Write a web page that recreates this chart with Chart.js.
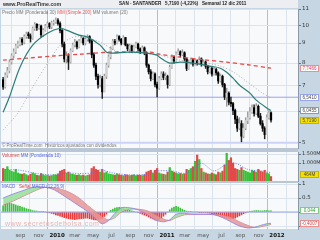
<!DOCTYPE html>
<html><head><meta charset="utf-8">
<script src="https://cdn.jsdelivr.net/npm/chart.js@4.4.1/dist/chart.umd.min.js"></script>
<style>
html,body{margin:0;padding:0}
body{width:320px;height:240px;background:#c6d6e3;position:relative;overflow:hidden;font-family:"Liberation Sans",Arial,sans-serif}
canvas{position:absolute;left:0}
.t{position:absolute;white-space:nowrap;font-size:4.5px;line-height:6px;color:#777}
.box{position:absolute;left:300px;width:19px;height:7px;font-size:4.6px;line-height:5px;text-align:center;border:1px solid #8a9aaa;background:#fff;box-sizing:border-box;color:#444}
</style></head><body>
<div style="position:absolute;left:0;top:0;width:298px;height:8px;background:#eceef1"></div>
<div style="position:absolute;left:0;top:148px;width:298px;height:4px;background:#b9c7d4"></div>
<div style="position:absolute;left:0;top:181px;width:298px;height:2px;background:#b9c7d4"></div>
<canvas id="c1" width="320" height="155" style="top:0"></canvas>
<canvas id="c2" width="320" height="42" style="top:145px"></canvas>
<canvas id="c3" width="320" height="64" style="top:176px"></canvas>
<div class="t" style="left:3px;top:1px;font-weight:bold;color:#333;font-size:5.3px">www.ProRealTime.com</div>
<div class="t" style="left:119px;top:1px;font-weight:bold;color:#222;font-size:4.6px">SAN - SANTANDER &nbsp; 5,7190 (-4,22%) &nbsp; Semanal 12 dic 2011</div>
<div class="t" style="left:2px;top:10px">Precio MM (Ponderada 30) <span style="color:#e85555">MM (Simple 200)</span> MM volumen (20)</div>
<div class="t" style="left:2px;top:143px">© ProRealTime.com &nbsp;Históricos ajustados con dividendos</div>
<div class="t" style="left:2px;top:153px"><span style="color:#e04040">Volumen</span> <span style="color:#5566dd">MM (Ponderada 10)</span></div>
<div class="t" style="left:2px;top:184px"><span style="color:#5566dd">MACD</span> &nbsp; <span style="color:#e04040">Señal</span> <span style="color:#5566dd">MACD (12,26,9)</span></div>
<div class="t" style="left:5px;top:220px;font-size:7px;line-height:8px;color:#e9b4b4;letter-spacing:0.5px">www.secretosdebolsa.com</div>
<div id="boxes"></div>
<script>
// ---- data (weekly, first week = 2009-07-06) ----
const firstWeek = '2009-07-06';
const priceOpen = [7.25,6.95,7.45,7.65,8.05,8.35,8.55,8.85,8.95,9.20,9.05,9.35,9.50,9.40,9.25,9.80,10.05,9.85,9.95,9.45,9.70,9.95,10.10,9.90,10.15,10.20,10.30,10.10,9.70,8.95,8.20,8.35,8.05,8.60,8.90,9.05,8.80,9.10,9.25,9.00,9.20,9.35,9.10,8.40,7.90,7.40,7.05,7.30,6.75,7.40,7.90,8.30,8.70,9.10,9.00,9.35,9.20,9.00,9.30,8.90,8.70,8.85,8.60,8.80,8.95,8.70,8.55,8.75,8.50,7.90,7.60,7.30,7.50,7.05,6.90,7.30,7.50,7.35,7.40,7.05,7.80,8.30,8.10,8.45,8.55,8.40,8.50,8.20,7.75,8.05,8.15,7.95,8.10,8.00,8.20,7.95,8.05,7.85,7.60,7.75,7.50,7.70,7.55,7.20,7.40,7.05,6.55,6.70,6.35,6.30,6.05,5.75,5.45,5.60,5.20,5.45,5.70,5.80,6.00,6.15,5.95,6.20,5.85,5.60,5.45,5.25,5.80,5.97];
const priceClose = [6.95,7.45,7.65,8.05,8.35,8.55,8.85,8.95,9.20,9.05,9.35,9.50,9.40,9.25,9.80,10.05,9.85,9.95,9.45,9.70,9.95,10.10,9.90,10.15,10.20,10.30,10.10,9.70,8.95,8.20,8.35,8.05,8.60,8.90,9.05,8.80,9.10,9.25,9.00,9.20,9.35,9.10,8.40,7.90,7.40,7.05,7.30,6.75,7.40,7.90,8.30,8.70,9.10,9.00,9.35,9.20,9.00,9.30,8.90,8.70,8.85,8.60,8.80,8.95,8.70,8.55,8.75,8.50,7.90,7.60,7.30,7.50,7.05,6.90,7.30,7.50,7.35,7.40,7.05,7.80,8.30,8.10,8.45,8.55,8.40,8.50,8.20,7.75,8.05,8.15,7.95,8.10,8.00,8.20,7.95,8.05,7.85,7.60,7.75,7.50,7.70,7.55,7.20,7.40,7.05,6.55,6.70,6.35,6.30,6.05,5.75,5.45,5.60,5.20,5.45,5.70,5.80,6.00,6.15,5.95,6.20,5.85,5.60,5.45,5.25,5.80,5.97,5.719];
const priceHigh = [7.35,7.55,7.80,8.15,8.45,8.70,8.95,9.10,9.30,9.30,9.45,9.60,9.60,9.50,9.90,10.15,10.10,10.05,10.00,9.80,10.05,10.20,10.15,10.25,10.30,10.45,10.40,10.20,9.75,9.05,8.55,8.45,8.70,9.00,9.20,9.10,9.20,9.40,9.30,9.30,9.45,9.40,9.15,8.50,8.00,7.50,7.45,7.40,7.50,8.00,8.40,8.80,9.20,9.20,9.45,9.40,9.25,9.40,9.30,8.95,8.95,8.90,8.90,9.05,9.00,8.75,8.85,8.80,8.55,7.95,7.70,7.60,7.55,7.15,7.40,7.60,7.60,7.55,7.45,7.90,8.40,8.35,8.55,8.70,8.60,8.65,8.55,8.25,8.15,8.25,8.20,8.20,8.15,8.30,8.25,8.15,8.10,7.90,7.85,7.80,7.80,7.75,7.60,7.50,7.45,7.10,6.90,6.75,6.55,6.35,6.10,5.85,5.80,5.70,5.60,5.80,6.00,6.15,6.25,6.25,6.30,6.25,5.95,5.70,5.50,5.90,6.05,6.00];
const priceLow = [6.85,6.90,7.35,7.55,7.95,8.25,8.45,8.75,8.85,8.90,8.95,9.25,9.25,9.05,9.20,9.70,9.70,9.75,9.30,9.35,9.65,9.85,9.80,9.80,10.00,10.10,10.00,9.55,8.80,8.05,8.00,7.70,8.00,8.55,8.80,8.70,8.75,9.05,8.90,8.90,9.10,9.00,8.25,7.80,7.25,6.90,6.95,6.50,6.75,7.30,7.80,8.20,8.65,8.90,8.95,9.10,8.90,8.95,8.85,8.60,8.60,8.50,8.55,8.75,8.60,8.45,8.50,8.40,7.80,7.50,7.20,7.25,6.95,6.55,6.85,7.25,7.25,7.25,6.90,7.00,7.75,8.00,8.05,8.40,8.30,8.35,8.10,7.65,7.70,7.95,7.85,7.90,7.90,7.95,7.85,7.90,7.75,7.50,7.55,7.40,7.45,7.45,7.10,7.15,6.95,6.45,6.20,6.25,6.20,5.90,5.60,5.35,5.40,5.03,5.15,5.40,5.60,5.75,5.95,5.85,5.90,5.80,5.55,5.35,5.12,5.25,5.75,5.65];
const ma30Weeks = [0,3,8,14,21,27,30,36,40,46,49,52,59,68,73,74,79,84,90,98,103,106,109,112,117,120,125,127];
const ma30Values = [5.99,6.55,7.81,8.89,9.54,9.82,9.71,9.43,9.32,8.89,8.53,8.48,8.53,8.48,8.38,8.29,8.00,8.04,8.00,7.86,7.76,7.58,7.32,7.03,6.70,6.43,6.14,6.05];
const ma200Weeks = [0,12,24,37,51,70,74,84,95,106,116,127];
const ma200Values = [8.14,8.24,8.34,8.43,8.53,8.53,8.43,8.28,8.16,8.04,7.92,7.76];
const maDotWeeks = [0,7,14,22,27,32,36,41,46,51,55,65,74,84,93,103,110,117,123,127];
const maDotValues = [5.39,5.96,6.94,8.14,8.89,9.26,9.37,9.26,9.05,8.74,8.53,8.48,8.38,8.14,8.04,7.86,7.54,7.07,6.70,6.51];
const priceLevels = [6.541, 5.0];
const volume = [700,650,800,600,550,500,650,450,400,380,420,350,300,380,450,400,320,300,420,350,300,320,280,300,350,330,400,550,600,650,450,500,400,380,350,320,350,300,330,280,320,350,700,800,650,600,500,650,450,500,400,380,350,330,400,350,320,300,350,330,300,320,350,300,330,320,300,350,500,550,600,450,600,700,450,400,380,350,500,750,550,480,450,400,420,380,400,650,600,700,800,1100,1450,1200,700,500,450,400,380,450,400,350,500,450,550,900,1550,1150,1300,1000,700,650,600,750,600,550,500,450,600,550,500,650,550,500,600,450,400,250];
const volMaWeeks = [0,8,16,24,30,36,42,46,52,60,68,73,80,86,90,94,100,106,110,116,122,127];
const volMaValues = [650,600,420,340,450,420,450,620,450,340,380,560,560,430,650,1000,560,950,1000,650,560,470];
const macdWeeks = [0,5,10,14,18,21,24,28,32,36,40,44,47,50,53,56,60,64,68,72,76,79,82,86,90,95,100,104,108,112,116,119,122,125,127];
const macdLine = [0.50,0.65,0.78,0.88,0.90,0.87,0.80,0.62,0.42,0.22,0.02,-0.25,-0.42,-0.30,-0.05,0.15,0.15,0.08,-0.08,-0.28,-0.35,-0.28,-0.08,-0.05,-0.08,-0.08,-0.10,-0.20,-0.35,-0.50,-0.57,-0.55,-0.48,-0.42,-0.40];
const signalLine = [0.25,0.40,0.58,0.72,0.85,0.88,0.86,0.80,0.68,0.50,0.24,0.00,-0.18,-0.28,-0.20,0.00,0.10,0.10,0.05,-0.10,-0.25,-0.30,-0.20,-0.10,-0.08,-0.08,-0.08,-0.12,-0.20,-0.35,-0.48,-0.55,-0.53,-0.48,-0.44];
const macdHist = [0.22,0.28,0.30,0.32,0.30,0.28,0.25,0.22,0.20,0.18,0.15,0.12,0.10,0.08,0.05,0.04,0.03,0.02,0.02,0.01,0.00,-0.01,-0.03,-0.05,-0.07,-0.10,-0.12,-0.15,-0.17,-0.20,-0.22,-0.24,-0.25,-0.26,-0.27,-0.26,-0.25,-0.24,-0.23,-0.22,-0.22,-0.24,-0.26,-0.28,-0.28,-0.27,-0.26,-0.24,-0.16,-0.08,0.00,0.06,0.10,0.14,0.16,0.17,0.15,0.12,0.10,0.08,0.06,0.04,0.02,0.00,-0.02,-0.05,-0.08,-0.11,-0.14,-0.18,-0.22,-0.25,-0.28,-0.29,-0.27,-0.22,-0.15,-0.08,0.00,0.08,0.14,0.18,0.20,0.18,0.14,0.10,0.06,0.03,0.02,0.01,0.00,0.00,0.00,-0.01,-0.01,-0.02,-0.02,-0.03,-0.04,-0.06,-0.08,-0.10,-0.12,-0.15,-0.18,-0.20,-0.22,-0.24,-0.25,-0.24,-0.22,-0.18,-0.14,-0.10,-0.06,-0.03,0.00,0.02,0.03,0.04,0.05,0.05,0.04,0.04,0.05,0.05,0.04,0.044];
const monthTickDates = ['2009-09-01','2009-11-01','2010-01-01','2010-03-01','2010-05-01','2010-07-01','2010-09-01','2010-11-01','2011-01-01','2011-03-01','2011-05-01','2011-07-01','2011-09-01','2011-11-01','2012-01-01','2012-03-01'];
const monthTickLabels = ['sep','nov','2010','mar','may','jul','sep','nov','2011','mar','may','jul','sep','nov','2012',''];
const priceTicks = [5,6,7,8,9,10,11];
const volumeTicks = [1000,1500];
const macdTicks = [-0.5,0,0.5,1];

// ---- helpers ----
const DAY = 86400000;
const t0 = Date.parse(firstWeek);
const monthTickPos = monthTickDates.map(d => (Date.parse(d) - t0) / (7 * DAY));
const isYear = v => { const k = monthTickPos.findIndex(p => Math.abs(p - v) < 1e-6); return k >= 0 && /^\d{4}$/.test(monthTickLabels[k]); };
const XMIN = -1, XMAX = 139.8;
const up = priceClose.map((c, i) => c >= priceOpen[i]);
const pts = (xs, ys) => xs.map((x, i) => ({x, y: ys[i]}));
const bgPlugin = {id: 'bg', beforeDraw(c) {
  const a = c.chartArea, g = c.ctx; g.save(); g.fillStyle = '#f7f9fb';
  g.fillRect(a.left, a.top, a.right - a.left, a.bottom - a.top); g.restore(); }};
const xScale = (showTicks) => ({
  type: 'linear', min: XMIN, max: XMAX, offset: false,
  afterBuildTicks: s => { s.ticks = monthTickPos.map(v => ({value: v})); },
  grid: {color: c => (c.tick && isYear(c.tick.value)) ? '#aebfcf' : '#dbe4ec', drawTicks: false},
  border: {display: false},
  ticks: showTicks ? {
    display: true, autoSkip: false, maxRotation: 0, padding: 3,
    callback: v => { const k = monthTickPos.findIndex(p => Math.abs(p - v) < 1e-6); return k >= 0 ? monthTickLabels[k] : ''; },
    font: c => ({size: 5.5, family: 'DejaVu Sans', weight: (c.tick && isYear(c.tick.value)) ? 'bold' : 'normal'}),
    color: c => (c.tick && isYear(c.tick.value)) ? '#111' : '#555'
  } : {display: false},
  afterFit: s => { s.height = showTicks ? 11 : 0; }
});
const yBase = {
  position: 'right',
  afterFit: s => { s.width = 22; },
  grid: {color: '#dbe4ec', tickLength: 3, tickColor: '#667788'},
  border: {display: true, color: '#8899aa'},
  ticks: {padding: 1, font: {size: 5.5, family: 'DejaVu Sans'}, color: '#333'}
};
const common = {responsive: false, animation: false, events: [],
  plugins: {legend: {display: false}, tooltip: {enabled: false}}};

// ---- price chart ----
const ch1 = new Chart(document.getElementById('c1'), {
  type: 'bar',
  data: {datasets: [
    {type: 'line', data: pts(ma30Weeks, ma30Values), borderColor: '#2c7c78', borderWidth: 1.2, pointRadius: 0, tension: 0.3},
    {type: 'line', data: pts(ma200Weeks, ma200Values), borderColor: '#e84848', borderWidth: 1.3, borderDash: [4, 3], pointRadius: 0, tension: 0.3},
    {type: 'line', data: pts(maDotWeeks, maDotValues), borderColor: '#999', borderWidth: 0.8, borderDash: [1, 2], pointRadius: 0, tension: 0.3},
    {data: priceOpen.map((o, i) => ({x: i, y: [o, priceClose[i]]})), grouped: false, barThickness: 1.6,
      backgroundColor: up.map(u => u ? '#d2d2d2' : '#000')},
    {data: priceLow.map((l, i) => ({x: i, y: [l, priceHigh[i]]})), grouped: false, barThickness: 0.8,
      backgroundColor: up.map(u => u ? '#9a9a9a' : '#222')},
    {type: 'line', data: [{x: XMIN, y: priceLevels[0]}, {x: XMAX, y: priceLevels[0]}], borderColor: '#97a4f2', borderWidth: 1, pointRadius: 0},
    {type: 'line', data: [{x: XMIN, y: priceLevels[1]}, {x: XMAX, y: priceLevels[1]}], borderColor: '#cdd3f6', borderWidth: 2, pointRadius: 0}
  ]},
  options: {...common,
    layout: {padding: {top: 9, bottom: 7, left: 1, right: 0}},
    scales: {
      x: xScale(false),
      y: {...yBase, type: 'logarithmic', min: 4.85, max: 11.0,
        afterBuildTicks: s => { s.ticks = priceTicks.map(v => ({value: v})); },
        ticks: {...yBase.ticks, callback: v => v === 6 ? '' : String(v)}}
    }
  },
  plugins: [bgPlugin]
});

// ---- volume chart ----
const ch2 = new Chart(document.getElementById('c2'), {
  type: 'bar',
  data: {datasets: [
    {type: 'line', data: pts(volMaWeeks, volMaValues), borderColor: '#5b6ee0', borderWidth: 0.9, borderDash: [1, 1.5], pointRadius: 0, tension: 0.3},
    {data: volume.map((v, i) => ({x: i, y: v})), grouped: false, barThickness: 1.6,
      backgroundColor: up.map(u => u ? '#35c235' : '#e24a4a')}
  ]},
  options: {...common,
    layout: {padding: {top: 7, bottom: 6, left: 1, right: 0}},
    scales: {
      x: xScale(false),
      y: {...yBase, type: 'linear', min: 0, max: 1620,
        afterBuildTicks: s => { s.ticks = volumeTicks.map(v => ({value: v})); },
        ticks: {...yBase.ticks, font: {size: 5, family: 'DejaVu Sans'}, callback: v => (v / 1000).toFixed(3) + 'M'}}
    }
  },
  plugins: [bgPlugin]
});

// ---- MACD chart ----
const ch3 = new Chart(document.getElementById('c3'), {
  type: 'bar',
  data: {datasets: [
    {type: 'line', data: pts(macdWeeks, macdLine), borderColor: '#8a7ee8', borderWidth: 0.8, pointRadius: 0, tension: 0.3,
      fill: {target: 1, above: 'rgba(150,225,150,0.85)', below: 'rgba(232,150,150,0.85)'}},
    {type: 'line', data: pts(macdWeeks, signalLine), borderColor: '#d86a8a', borderWidth: 0.8, pointRadius: 0, tension: 0.3},
    {type: 'line', data: [{x: XMIN, y: 0}, {x: XMAX, y: 0}], borderColor: '#9aa6ee', borderWidth: 1, pointRadius: 0},
    {data: macdHist.map((v, i) => ({x: i, y: v})), grouped: false, barThickness: 1,
      backgroundColor: macdHist.map(v => v >= 0 ? '#3cbf3c' : '#ea3b3b')}
  ]},
  options: {...common,
    layout: {padding: {top: 7, bottom: 0, left: 1, right: 0}},
    scales: {
      x: xScale(true),
      y: {...yBase, type: 'linear', min: -0.607, max: 1.036,
        afterBuildTicks: s => { s.ticks = macdTicks.map(v => ({value: v})); },
        ticks: {...yBase.ticks, callback: v => (v === 1 || v === 0.5) ? String(v) : ''}}
    }
  },
  plugins: [bgPlugin]
});

// ---- value boxes on the right axes ----
const boxes = document.getElementById('boxes');
function box(text, top, css) {
  const d = document.createElement('div'); d.className = 'box'; d.textContent = text;
  d.style.top = (top - 3.5) + 'px'; if (css) d.style.cssText += css; boxes.appendChild(d);
}
const y1 = ch1.scales.y, y2 = ch2.scales.y, y3 = ch3.scales.y;
box('7,7466', y1.getPixelForValue(ma200Values[ma200Values.length - 1]), 'color:#e04040;border-color:#e89090');
box('6,5410', y1.getPixelForValue(priceLevels[0]), 'border-color:#98a4e8');
box('6,0455', y1.getPixelForValue(ma30Values[ma30Values.length - 1]));
box('5,7190', y1.getPixelForValue(priceClose[priceClose.length - 1]), 'background:#f5e000;border-color:#c8b400');
box('464M', 145 + y2.getPixelForValue(volume[volume.length - 1]) - 2, 'background:#f5e000;border-color:#c8b400');
box('0,044', 176 + y3.getPixelForValue(macdHist[macdHist.length - 1]), 'color:#2a9a2a;border-color:#80cc80');
box('-0,4007', 176 + y3.getPixelForValue(macdLine[macdLine.length - 1]), 'color:#d04040;border-color:#e89090');
</script>
</body></html>
